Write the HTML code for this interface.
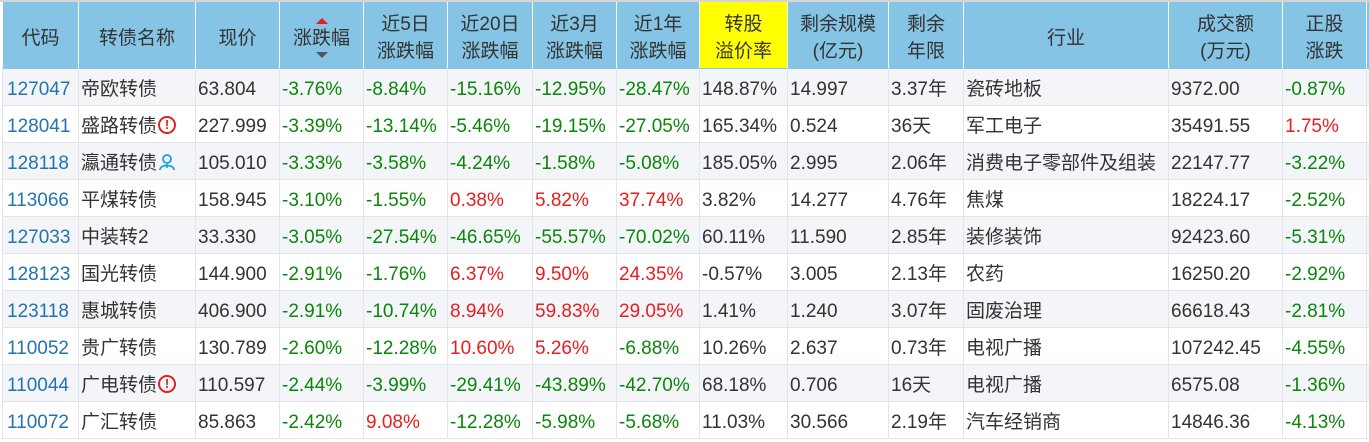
<!DOCTYPE html>
<html>
<head>
<meta charset="utf-8">
<style>
html,body{margin:0;padding:0;width:1369px;height:442px;overflow:hidden;background:#fff;}
.topbar{position:absolute;left:0;top:0;width:1369px;height:2px;background:#d6d6d6;}
.wrap{position:absolute;left:2px;top:2px;}
table{border-collapse:separate;border-spacing:0;table-layout:fixed;width:1464px;
 font-family:"Liberation Sans","Noto Sans CJK SC",sans-serif;font-size:19px;color:#333;}
th{background:#85c4e4;font-weight:normal;color:#333;height:67px;padding:6px 0 0 0;
 border-left:1px solid #fff;border-bottom:1px solid #85c4e4;line-height:27px;text-align:center;vertical-align:middle;position:relative;box-sizing:border-box;}
th.y{background:#ffff00;}
td{height:31px;padding:5px 0 0 2px;border-left:1px solid #e4e5ea;border-bottom:1px solid #e4e5ea;
 line-height:31px;white-space:nowrap;overflow:hidden;vertical-align:middle;box-sizing:content-box;}
tr.o td{background:#f4f5f9;}
tr.e td{background:#fff;}
td.c{color:#2373b3;padding-left:4px;}
.g{color:#0a860a;}
.r{color:#ea1c1c;}
.up{position:absolute;left:50%;margin-left:-6px;top:16px;width:0;height:0;border-left:6px solid transparent;border-right:6px solid transparent;border-bottom:6px solid #e02020;}
.dn{position:absolute;left:50%;margin-left:-6px;top:50px;width:0;height:0;border-left:6px solid transparent;border-right:6px solid transparent;border-top:6px solid #555;}
.warn{display:inline-block;width:14px;height:14px;border:2px solid #e02222;border-radius:50%;color:#e02222;font-size:13px;font-weight:bold;line-height:14px;text-align:center;vertical-align:middle;margin-left:1px;position:relative;top:-2px;font-family:"Liberation Sans",sans-serif;}
.person{display:inline-block;width:18px;height:18px;vertical-align:middle;position:relative;top:-2px;margin-left:1px;}
</style>
</head>
<body>
<div class="topbar"></div>
<div class="wrap">
<table>
<colgroup>
<col style="width:76px"><col style="width:117px"><col style="width:84px"><col style="width:84px"><col style="width:84px"><col style="width:85px"><col style="width:84px"><col style="width:83px"><col style="width:88px"><col style="width:101px"><col style="width:75px"><col style="width:205px"><col style="width:114px"><col style="width:84px"><col style="width:100px">
</colgroup>
<tr>
<th>代码</th><th>转债名称</th><th>现价</th><th><span class="up"></span>涨跌幅<span class="dn"></span></th><th>近5日<br>涨跌幅</th><th>近20日<br>涨跌幅</th><th>近3月<br>涨跌幅</th><th>近1年<br>涨跌幅</th><th class="y">转股<br>溢价率</th><th>剩余规模<br>(亿元)</th><th>剩余<br>年限</th><th>行业</th><th>成交额<br>(万元)</th><th>正股<br>涨跌</th><th></th>
</tr>
<tr class="o"><td class="c">127047</td><td>帝欧转债</td><td>63.804</td><td class="g">-3.76%</td><td class="g">-8.84%</td><td class="g">-15.16%</td><td class="g">-12.95%</td><td class="g">-28.47%</td><td>148.87%</td><td>14.997</td><td>3.37年</td><td>瓷砖地板</td><td>9372.00</td><td class="g">-0.87%</td><td></td></tr>
<tr class="e"><td class="c">128041</td><td>盛路转债<span class="warn">!</span></td><td>227.999</td><td class="g">-3.39%</td><td class="g">-13.14%</td><td class="g">-5.46%</td><td class="g">-19.15%</td><td class="g">-27.05%</td><td>165.34%</td><td>0.524</td><td>36天</td><td>军工电子</td><td>35491.55</td><td class="r">1.75%</td><td></td></tr>
<tr class="o"><td class="c">128118</td><td>瀛通转债<svg class="person" viewBox="0 0 18 18"><circle cx="9" cy="6" r="4" fill="none" stroke="#1a9ee6" stroke-width="1.8"/><path d="M2 17 C2 11 16 11 16 17" fill="none" stroke="#1a9ee6" stroke-width="1.8"/><path d="M9 11 L9 15" stroke="#1a9ee6" stroke-width="1.6"/></svg></td><td>105.010</td><td class="g">-3.33%</td><td class="g">-3.58%</td><td class="g">-4.24%</td><td class="g">-1.58%</td><td class="g">-5.08%</td><td>185.05%</td><td>2.995</td><td>2.06年</td><td>消费电子零部件及组装</td><td>22147.77</td><td class="g">-3.22%</td><td></td></tr>
<tr class="e"><td class="c">113066</td><td>平煤转债</td><td>158.945</td><td class="g">-3.10%</td><td class="g">-1.55%</td><td class="r">0.38%</td><td class="r">5.82%</td><td class="r">37.74%</td><td>3.82%</td><td>14.277</td><td>4.76年</td><td>焦煤</td><td>18224.17</td><td class="g">-2.52%</td><td></td></tr>
<tr class="o"><td class="c">127033</td><td>中装转2</td><td>33.330</td><td class="g">-3.05%</td><td class="g">-27.54%</td><td class="g">-46.65%</td><td class="g">-55.57%</td><td class="g">-70.02%</td><td>60.11%</td><td>11.590</td><td>2.85年</td><td>装修装饰</td><td>92423.60</td><td class="g">-5.31%</td><td></td></tr>
<tr class="e"><td class="c">128123</td><td>国光转债</td><td>144.900</td><td class="g">-2.91%</td><td class="g">-1.76%</td><td class="r">6.37%</td><td class="r">9.50%</td><td class="r">24.35%</td><td>-0.57%</td><td>3.005</td><td>2.13年</td><td>农药</td><td>16250.20</td><td class="g">-2.92%</td><td></td></tr>
<tr class="o"><td class="c">123118</td><td>惠城转债</td><td>406.900</td><td class="g">-2.91%</td><td class="g">-10.74%</td><td class="r">8.94%</td><td class="r">59.83%</td><td class="r">29.05%</td><td>1.41%</td><td>1.240</td><td>3.07年</td><td>固废治理</td><td>66618.43</td><td class="g">-2.81%</td><td></td></tr>
<tr class="e"><td class="c">110052</td><td>贵广转债</td><td>130.789</td><td class="g">-2.60%</td><td class="g">-12.28%</td><td class="r">10.60%</td><td class="r">5.26%</td><td class="g">-6.88%</td><td>10.26%</td><td>2.637</td><td>0.73年</td><td>电视广播</td><td>107242.45</td><td class="g">-4.55%</td><td></td></tr>
<tr class="o"><td class="c">110044</td><td>广电转债<span class="warn">!</span></td><td>110.597</td><td class="g">-2.44%</td><td class="g">-3.99%</td><td class="g">-29.41%</td><td class="g">-43.89%</td><td class="g">-42.70%</td><td>68.18%</td><td>0.706</td><td>16天</td><td>电视广播</td><td>6575.08</td><td class="g">-1.36%</td><td></td></tr>
<tr class="e"><td class="c">110072</td><td>广汇转债</td><td>85.863</td><td class="g">-2.42%</td><td class="r">9.08%</td><td class="g">-12.28%</td><td class="g">-5.98%</td><td class="g">-5.68%</td><td>11.03%</td><td>30.566</td><td>2.19年</td><td>汽车经销商</td><td>14846.36</td><td class="g">-4.13%</td><td></td></tr>
</table>
</div>
</body>
</html>
